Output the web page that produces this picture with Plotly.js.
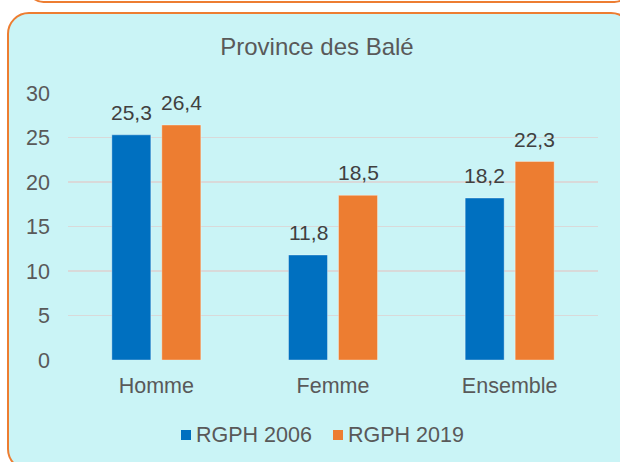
<!DOCTYPE html>
<html>
<head>
<meta charset="utf-8">
<script src="https://cdn.plot.ly/plotly-3.0.1.min.js"></script>
<style>
  html, body { margin:0; padding:0; width:620px; height:462px; overflow:hidden; background:#ffffff; }
  #prev { position:absolute; left:27px; top:-30px; width:600px; height:29px; border:2px solid #ED7D31; border-radius:20px; background:#ffffff; }
  #box { position:absolute; left:7px; top:12px; width:622px; height:455px; border:2px solid #ED7D31; border-radius:22px; background:#CAF4F6; }
  #chart { position:absolute; left:0; top:0; width:620px; height:462px; }
</style>
</head>
<body>
<div id="prev"></div>
<div id="box"></div>
<div id="chart"></div>
<script>
const categories = ['Homme', 'Femme', 'Ensemble'];
const seriesNames = ['RGPH 2006', 'RGPH 2019'];
const values2006 = [25.3, 11.8, 18.2];
const values2019 = [26.4, 18.5, 22.3];
const tickValues = [0, 5, 10, 15, 20, 25, 30];

const colors = ['#0070C0', '#ED7D31'];
const allValues = [values2006, values2019];
const FONT = 'Liberation Sans, Arial, sans-serif';

const traces = allValues.map((vals, i) => ({
  type: 'bar',
  name: seriesNames[i],
  x: categories,
  y: vals,
  marker: { color: colors[i], line: { color: 'rgba(255,255,255,0.35)', width: 1 } },
  hoverinfo: 'none',
  showlegend: false
}));

// plot area geometry in pixels (for legend placement)
const L = 68, R = 22, T = 93, B = 102, W = 620, H = 462;
const pw = W - L - R, ph = H - T - B;
const px = v => (v - L) / pw;
const py = v => (H - B - v) / ph;

const offsets = [-25, 25];
const annotations = [];
allValues.forEach((vals, i) => {
  vals.forEach((v, j) => {
    annotations.push({
      x: categories[j], y: v, xref: 'x', yref: 'y',
      text: v.toFixed(1).replace('.', ','),
      showarrow: false, xshift: offsets[i], yshift: 9, yanchor: 'bottom',
      font: { family: FONT, size: 21, color: '#404040' }
    });
  });
});

// custom legend: colored squares + text
const legendSquareX = [181, 333];
const legendY = 435;
const shapes = [];
seriesNames.forEach((name, i) => {
  shapes.push({
    type: 'rect', xref: 'paper', yref: 'paper', layer: 'above',
    x0: px(legendSquareX[i]), x1: px(legendSquareX[i] + 10),
    y0: py(legendY - 5), y1: py(legendY + 5),
    fillcolor: colors[i], line: { width: 0 }
  });
  annotations.push({
    x: px(legendSquareX[i] + 13), y: py(legendY), xref: 'paper', yref: 'paper',
    xanchor: 'left', yanchor: 'middle', showarrow: false,
    text: name, font: { family: FONT, size: 21.5, color: '#595959' }
  });
});

const layout = {
  width: W, height: H,
  paper_bgcolor: 'rgba(0,0,0,0)',
  plot_bgcolor: 'rgba(0,0,0,0)',
  margin: { l: L, r: R, t: T, b: B, autoexpand: false },
  font: { family: FONT, size: 21, color: '#595959' },
  title: { text: 'Province des Balé', x: 317/620, xanchor: 'center', y: 1 - 47/462, yanchor: 'middle',
           font: { size: 24, color: '#595959' } },
  bargap: 0.434,
  bargroupgap: 0.22,
  barmode: 'group',
  showlegend: false,
  xaxis: { type: 'category', showgrid: false, showline: false, ticks: '', ticklabelstandoff: 10,
           tickfont: { size: 21.5, color: '#595959' } },
  yaxis: { range: [0, 30], tickvals: tickValues, showgrid: true, gridcolor: '#D9D9D9', gridwidth: 1.5,
           zeroline: false, showline: false, ticks: '', ticklabelstandoff: 17,
           tickfont: { size: 21.5, color: '#595959' } },
  annotations: annotations,
  shapes: shapes
};

Plotly.newPlot('chart', traces, layout, { staticPlot: true, displayModeBar: false });
</script>
</body>
</html>
